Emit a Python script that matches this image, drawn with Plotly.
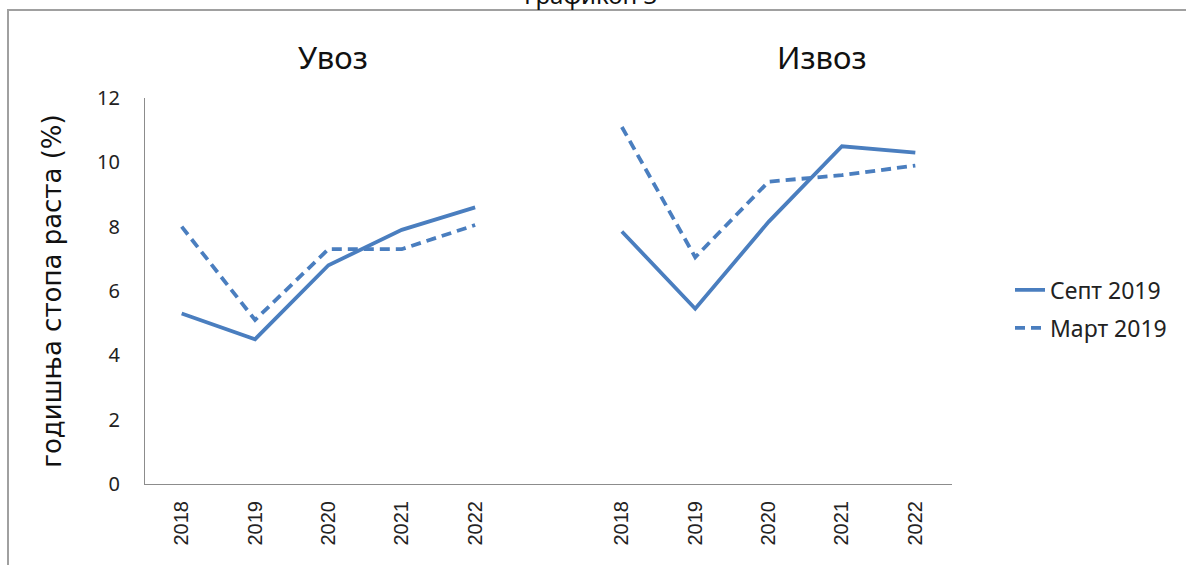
import plotly.graph_objects as go

years = ["2018", "2019", "2020", "2021", "2022"]
groups = ["Увоз", "Извоз"]
series_names = ["Септ 2019", "Март 2019"]

import_sep = [5.3, 4.5, 6.8, 7.9, 8.6]
import_mar = [8.0, 5.1, 7.3, 7.3, 8.05]
export_sep = [7.85, 5.45, 8.15, 10.5, 10.3]
export_mar = [11.1, 7.05, 9.4, 9.6, 9.9]

y_ticks = [0, 2, 4, 6, 8, 10, 12]

color = "#4a7ebf"
gap = 1  # empty slot between the two groups
x_imp = list(range(len(years)))
x_exp = [len(years) + gap + i for i in range(len(years))]

fig = go.Figure()
data = {
    ("Увоз", "Септ 2019"): (x_imp, import_sep),
    ("Увоз", "Март 2019"): (x_imp, import_mar),
    ("Извоз", "Септ 2019"): (x_exp, export_sep),
    ("Извоз", "Март 2019"): (x_exp, export_mar),
}
for (g, s), (xs, ys) in data.items():
    fig.add_trace(go.Scatter(
        x=xs, y=ys, mode="lines", name=s, legendgroup=s,
        showlegend=(g == "Увоз"),
        line=dict(color=color, width=3.8,
                  dash="solid" if s == "Септ 2019" else "10px,6px"),
    ))

font_main = "Noto Sans"
W, H = 1186, 565
L, R, T, B = 145, 234, 98, 81
pw, ph = W - L - R, H - T - B


def px_x(p):
    return (p - L) / pw


def px_y(p):
    return 1 - (p - T) / ph


fig.update_layout(
    width=W, height=H,
    margin=dict(l=L, r=R, t=T, b=B),
    paper_bgcolor="white", plot_bgcolor="white",
    showlegend=True,
    legend=dict(x=px_x(1010), y=px_y(309), xanchor="left", yanchor="middle",
                font=dict(family=font_main, size=23, color="#222"),
                tracegroupgap=5, itemwidth=30, bgcolor="rgba(0,0,0,0)"),
    xaxis=dict(
        range=[-0.5, x_exp[-1] + 0.5],
        tickmode="array", tickvals=x_imp + x_exp, ticktext=years + years,
        tickangle=-90, showgrid=False, zeroline=False,
        showline=True, linecolor="#8c8c8c", linewidth=1, ticks="",
        ticklabelstandoff=8,
        tickfont=dict(family="Liberation Sans", size=20, color="#222"),
    ),
    yaxis=dict(
        range=[0, 12], tickvals=y_ticks, showgrid=False, zeroline=False,
        showline=True, linecolor="#8c8c8c", linewidth=1, ticks="",
        ticklabelstandoff=20,
        tickfont=dict(family=font_main, size=20, color="#222"),
        title=dict(text="годишња стопа раста (%)", standoff=28,
                   font=dict(family="DejaVu Sans", size=26, color="#111")),
    ),
)

# group titles
for g, cx in zip(groups, [333, 822]):
    fig.add_annotation(x=px_x(cx), y=px_y(57), xref="paper", yref="paper",
                       text=g, showarrow=False, yanchor="middle", xanchor="center",
                       font=dict(family=font_main, size=31, color="#111"))

# chart caption at top (cut off by the page edge, as in the source)
fig.add_annotation(x=px_x(590), y=px_y(13), xref="paper", yref="paper",
                   text="Графикон 3", showarrow=False, yanchor="bottom",
                   font=dict(family=font_main, size=24, color="#111"))

# outer frame
fig.add_shape(type="rect", xref="paper", yref="paper",
              x0=px_x(8), x1=px_x(1200), y0=px_y(590), y1=px_y(10),
              line=dict(color="#a0a0a0", width=2), layer="below")

fig.write_html("out.html", config={"displayModeBar": False},
               post_script="document.body.style.margin='0';")
